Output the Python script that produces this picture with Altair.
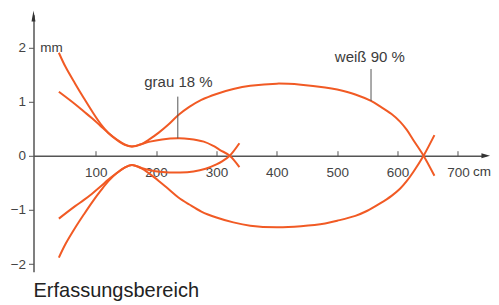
import altair as alt
import pandas as pd

# ---------------- data ----------------
weiss_upper_x = [39, 50, 66, 80, 94, 108, 121, 135, 148, 160, 175, 190, 205, 220, 237, 255, 275, 300, 328, 356, 400, 440, 480, 500, 530, 556, 571, 590, 604, 615, 626, 643, 661]
weiss_upper_y = [1.90, 1.64, 1.33, 1.07, 0.82, 0.59, 0.42, 0.29, 0.20, 0.17, 0.21, 0.31, 0.43, 0.57, 0.75, 0.90, 1.03, 1.14, 1.23, 1.29, 1.33, 1.31, 1.26, 1.22, 1.13, 1.01, 0.91, 0.77, 0.63, 0.48, 0.29, 0.00, -0.37]

weiss_lower_x = [39, 50, 66, 80, 94, 108, 121, 135, 148, 160, 175, 190, 205, 220, 237, 255, 275, 300, 328, 356, 400, 440, 480, 500, 530, 549, 571, 590, 604, 615, 626, 643, 661]
weiss_lower_y = [-1.88, -1.63, -1.33, -1.09, -0.86, -0.65, -0.47, -0.32, -0.22, -0.17, -0.23, -0.34, -0.47, -0.61, -0.77, -0.90, -1.03, -1.14, -1.23, -1.29, -1.32, -1.30, -1.25, -1.20, -1.11, -1.02, -0.88, -0.74, -0.61, -0.47, -0.30, 0.00, 0.38]

grau_upper_x = [39, 66, 80, 94, 108, 121, 135, 148, 160, 175, 190, 210, 236, 255, 279, 295, 306, 322, 338]
grau_upper_y = [1.18, 0.95, 0.82, 0.69, 0.55, 0.42, 0.30, 0.21, 0.17, 0.21, 0.26, 0.30, 0.32, 0.31, 0.26, 0.18, 0.105, 0.00, -0.21]

grau_lower_x = [39, 66, 80, 94, 108, 121, 135, 148, 160, 175, 190, 210, 240, 262, 282, 300, 310, 322, 338]
grau_lower_y = [-1.16, -0.93, -0.82, -0.70, -0.57, -0.44, -0.32, -0.22, -0.17, -0.22, -0.27, -0.30, -0.31, -0.29, -0.24, -0.16, -0.10, 0.00, 0.23]

x_ticks = [100, 200, 300, 400, 500, 600, 700]
y_ticks = [-2, -1, 0, 1, 2]
x_domain = [-3, 746]
y_domain = [-2.14, 2.6]

label_text = ["grau 18 %", "weiß 90 %"]
label_x = [237, 554]
label_y = [1.26, 1.73]
leader_x = [236, 556]
leader_y = [0.32, 1.01]
leader_y2 = [1.09, 1.60]

unit_text = ["mm", "cm"]
unit_x = [8, 725]
unit_y = [1.99, -0.30]

arrow_x = [-3, 746]
arrow_y = [2.58, 0]
arrow_shape = ["M-0.36,1L0.36,1L0,-1Z", "M-1,-0.58L1,0L-1,0.58Z"]
arrow_size = [121, 74]

# ---------------- layout ----------------
PX_PER_CM = 0.6038
PX_PER_MM = 54.2
W = (x_domain[1] - x_domain[0]) * PX_PER_CM
H = (y_domain[1] - y_domain[0]) * PX_PER_MM
zero_px = H * y_domain[1] / (y_domain[1] - y_domain[0])
PAD_L = 25.5
PAD_R = 483 - PAD_L - W

LINE = "#f15a24"
AX = "#555555"
TXT = "#3c3c3c"
FONT = "Liberation Sans"

rows = []
for name, xs, ys in [("wu", weiss_upper_x, weiss_upper_y), ("wl", weiss_lower_x, weiss_lower_y),
                     ("gu", grau_upper_x, grau_upper_y), ("gl", grau_lower_x, grau_lower_y)]:
    for i, (a, b) in enumerate(zip(xs, ys)):
        rows.append({"curve": name, "x": a, "y": b, "o": i})
curves_df = pd.DataFrame(rows)

xaxis = alt.Axis(orient="top", offset=-zero_px, values=x_ticks, tickSize=5, labelPadding=-21.6,
                 labelBaseline="middle", grid=False, title=None, labelFlush=False)
yaxis = alt.Axis(orient="left", values=y_ticks, tickSize=5, labelPadding=3, grid=False, title=None)

X = alt.X("x:Q", scale=alt.Scale(domain=x_domain, nice=False, zero=False), axis=xaxis)
Y = alt.Y("y:Q", scale=alt.Scale(domain=y_domain, nice=False, zero=False), axis=yaxis)

curves = alt.Chart(curves_df).mark_line(color=LINE, strokeWidth=2, interpolate="catmull-rom").encode(
    x=X, y=Y, detail="curve:N", order="o:Q")

leaders = alt.Chart(pd.DataFrame({"x": leader_x, "y": leader_y, "y2": leader_y2})).mark_rule(
    color=AX, strokeWidth=1).encode(x=X, y=Y, y2="y2:Q")

labels = alt.Chart(pd.DataFrame({"x": label_x, "y": label_y, "t": label_text})).mark_text(
    font=FONT, fontSize=15, color=TXT, align="center", baseline="alphabetic").encode(x=X, y=Y, text="t:N")

units = alt.Chart(pd.DataFrame({"x": unit_x, "y": unit_y, "t": unit_text})).mark_text(
    font=FONT, fontSize=13.5, color=TXT, align="left", baseline="middle").encode(x=X, y=Y, text="t:N")

arrows = alt.Chart(pd.DataFrame({"x": arrow_x, "y": arrow_y, "s": arrow_shape, "z": arrow_size})).mark_point(
    filled=True, color="#333333", opacity=1, strokeWidth=0).encode(
    x=X, y=Y, shape=alt.Shape("s:N", scale=None), size=alt.Size("z:Q", scale=None))

chart = alt.layer(curves, leaders, labels, units, arrows).properties(
    width=W, height=H,
    autosize=alt.AutoSizeParams(type="none"),
    padding={"left": PAD_L, "top": 6.8, "right": PAD_R, "bottom": 33},
    title=alt.TitleParams("Erfassungsbereich", orient="bottom", anchor="start", frame="group",
                          fontSize=20, font=FONT, fontWeight="normal", color="#222222",
                          baseline="alphabetic", offset=25),
).configure_view(stroke=None).configure_axis(
    domainColor=AX, domainWidth=1.5, tickColor=AX, tickWidth=1,
    labelColor="#444444", labelFont=FONT, labelFontSize=13.5,
)

chart.save("out.html", embed_options={"renderer": "svg", "actions": False})
